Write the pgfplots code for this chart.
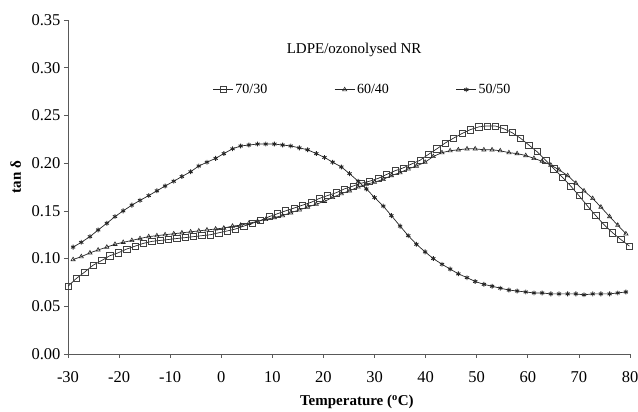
\documentclass[border=0pt]{standalone}
\usepackage{fontspec}
\setmainfont{Liberation Serif}
\usepackage{pgfplots}
\usepackage{pgfplotstable}
\pgfplotsset{compat=1.18}

\pgfplotstableread{
x y
-30.0 0.071
-28.4 0.079
-26.7 0.086
-25.1 0.093
-23.4 0.098
-21.8 0.103
-20.2 0.106
-18.5 0.110
-16.9 0.113
-15.2 0.116
-13.6 0.118
-12.0 0.119
-10.3 0.120
-8.7 0.121
-7.0 0.122
-5.4 0.123
-3.8 0.124
-2.1 0.125
-0.5 0.127
1.2 0.129
2.8 0.131
4.4 0.134
6.1 0.137
7.7 0.140
9.4 0.144
11.0 0.147
12.6 0.150
14.3 0.153
15.9 0.156
17.6 0.159
19.2 0.163
20.8 0.166
22.5 0.169
24.1 0.173
25.8 0.176
27.4 0.179
29.0 0.181
30.7 0.184
32.3 0.188
34.0 0.192
35.6 0.195
37.2 0.199
38.9 0.203
40.5 0.209
42.2 0.215
43.8 0.221
45.4 0.226
47.1 0.231
48.7 0.235
50.4 0.238
52.0 0.239
53.6 0.239
55.3 0.236
56.9 0.232
58.6 0.226
60.2 0.219
61.8 0.212
63.5 0.203
65.1 0.194
66.8 0.185
68.4 0.176
70.0 0.166
71.7 0.155
73.3 0.145
75.0 0.135
76.6 0.127
78.2 0.120
79.9 0.113
}\dataA

\pgfplotstableread{
x y
-29.0 0.099
-27.4 0.102
-25.7 0.106
-24.1 0.109
-22.4 0.112
-20.8 0.115
-19.2 0.117
-17.5 0.119
-15.9 0.121
-14.2 0.123
-12.6 0.124
-11.0 0.125
-9.3 0.126
-7.7 0.127
-6.0 0.128
-4.4 0.129
-2.8 0.130
-1.1 0.131
0.5 0.132
2.2 0.134
3.8 0.135
5.4 0.137
7.1 0.139
8.7 0.141
10.4 0.143
12.0 0.145
13.6 0.148
15.3 0.151
16.9 0.154
18.6 0.157
20.2 0.160
21.8 0.164
23.5 0.168
25.1 0.171
26.8 0.175
28.4 0.178
30.0 0.180
31.7 0.183
33.3 0.187
35.0 0.190
36.6 0.194
38.2 0.197
39.9 0.201
41.5 0.207
43.2 0.211
44.8 0.213
46.4 0.214
48.1 0.215
49.7 0.215
51.4 0.214
53.0 0.214
54.6 0.213
56.3 0.211
57.9 0.210
59.6 0.208
61.2 0.205
62.8 0.202
64.5 0.198
66.1 0.193
67.8 0.187
69.4 0.179
71.0 0.171
72.7 0.163
74.3 0.154
76.0 0.144
77.6 0.135
79.2 0.126
}\dataB

\pgfplotstableread{
x y
-29.0 0.112
-27.4 0.117
-25.7 0.123
-24.1 0.130
-22.4 0.137
-20.8 0.144
-19.2 0.150
-17.5 0.156
-15.9 0.161
-14.2 0.166
-12.6 0.171
-11.0 0.176
-9.3 0.181
-7.7 0.186
-6.0 0.191
-4.4 0.197
-2.8 0.201
-1.1 0.205
0.5 0.210
2.2 0.215
3.8 0.218
5.4 0.219
7.1 0.220
8.7 0.220
10.4 0.220
12.0 0.219
13.6 0.218
15.3 0.216
16.9 0.214
18.6 0.210
20.2 0.206
21.8 0.201
23.5 0.196
25.1 0.189
26.8 0.181
28.4 0.173
30.0 0.164
31.7 0.155
33.3 0.145
35.0 0.134
36.6 0.124
38.2 0.115
39.9 0.107
41.5 0.100
43.2 0.094
44.8 0.089
46.4 0.084
48.1 0.080
49.7 0.076
51.4 0.073
53.0 0.071
54.6 0.069
56.3 0.067
57.9 0.066
59.6 0.065
61.2 0.064
62.8 0.064
64.5 0.063
66.1 0.063
67.8 0.063
69.4 0.063
71.0 0.062
72.7 0.063
74.3 0.063
76.0 0.063
77.6 0.064
79.2 0.065
}\dataC

\begin{document}
\begin{tikzpicture}
\useasboundingbox (-68pt,-58pt) rectangle (570pt,354pt);
\begin{axis}[
  scale only axis, width=562pt, height=334pt,
  at={(0pt,0pt)}, anchor=south west,
  xmin=-30, xmax=80, ymin=0, ymax=0.35,
  axis lines=left,
  axis line style={-, draw=black!65, line width=0.7pt},
  tick align=outside, major tick length=4pt,
  tick style={draw=black!65, line width=0.7pt},
  xtick={-30,-20,...,80}, ytick={0,0.05,0.1,0.15,0.2,0.25,0.3,0.35},
  yticklabel style={/pgf/number format/.cd, fixed, fixed zerofill, precision=2},
  /pgf/number format/assume math mode=true,
  ticklabel style={font=\fontsize{16.5}{16.5}\selectfont},
  xticklabel style={yshift=-10pt},
  xlabel={\textbf{Temperature (\textsuperscript{o}C)}},
  ylabel={\textbf{tan δ}},
  label style={font=\fontsize{15}{15}\selectfont},
  xlabel style={at={(axis description cs:0.514,-0.144)}, anchor=center},
  ylabel style={at={(axis description cs:-0.093,0.53)}, anchor=center},
  legend columns=3,
  legend style={at={(axis cs:-2.3,0.277)}, anchor=west, draw=none, fill=none,
    font=\fontsize{14}{14}\selectfont,
    /tikz/every even column/.append style={column sep=65pt}},
  legend image code/.code={\draw[mark repeat=2,mark phase=2] plot coordinates {(0pt,0pt) (10pt,0pt) (20pt,0pt)};},
  every axis plot/.append style={line width=0.7pt, black!85},
]
\addplot[mark=square, mark size=3.1pt, mark options={solid, line width=0.6pt, draw=black!75}] table {\dataA};
\addlegendentry{70/30}
\addplot[mark=triangle, mark size=2.4pt, mark options={solid, line width=0.6pt}] table {\dataB};
\addlegendentry{60/40}
\addplot[mark=asterisk, mark size=2.4pt, mark options={solid, line width=0.9pt}] table {\dataC};
\addlegendentry{50/50}
\node[font=\fontsize{15}{15}\selectfont] at (axis cs:26,0.319) {LDPE/ozonolysed NR};
\end{axis}
\end{tikzpicture}
\end{document}
